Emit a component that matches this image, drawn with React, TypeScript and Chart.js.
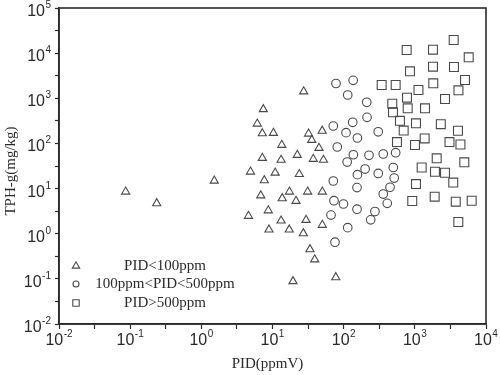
import React, { useEffect, useRef } from 'react';
import { Chart, registerables } from 'chart.js';

Chart.register(...registerables);

// PID (ppmV) / TPH-g (mg/kg) readings per group
const triX = [0.0865, 0.236, 1.52, 4.6, 4.91, 6.11, 7.43, 7.19, 10.3, 13.5, 32.1, 35.6, 49.9, 45.0, 7.19, 13.2, 22.3, 37.4, 52.0, 10.9, 23.8, 7.67, 27.4, 6.84, 17.3, 13.7, 21.4, 31.2, 50.1, 8.73, 13.2, 29.6, 8.93, 17.2, 27.1, 50.1, 33.6, 39.2, 19.4, 77.5];
const triY = [8.51, 4.71, 14.9, 2.47, 23.6, 273, 570, 167, 170, 92.3, 164, 119, 190, 79.2, 47.5, 43.0, 55.4, 45.2, 43.0, 22.4, 20.8, 15.2, 1413, 7.02, 8.51, 6.08, 5.3, 8.51, 8.51, 3.27, 1.94, 2.01, 1.23, 1.23, 1.02, 1.56, 0.451, 0.268, 0.0882, 0.108];

const circX = [78.0, 136, 114, 211, 213, 134, 71.5, 108, 156, 306, 81.3, 137, 227, 360, 538, 112, 200, 156, 306, 498, 513, 71.5, 154, 448, 360, 410, 73.1, 99.3, 154, 66.4, 275, 240, 114, 75.5];
const circY = [2125, 2500, 1183, 815, 379, 294, 243, 173, 132, 181, 83.3, 56.2, 54.6, 58.3, 62.3, 38.7, 27.1, 20.3, 21.6, 29.3, 17.1, 14.7, 10.5, 10.7, 7.57, 4.71, 5.38, 4.55, 3.49, 2.59, 3.1, 2.03, 1.36, 0.648];

const sqX = [3516, 768, 1799, 5715, 855, 1799, 3548, 5070, 342, 538, 1125, 1816, 4103, 776, 2655, 482, 493, 794, 1390, 618, 1038, 2317, 697, 4037, 561, 1005, 1374, 3069, 4375, 2028, 4955, 1247, 1919, 2655, 3467, 1038, 920, 1901, 3758, 6295, 4083];
const sqY = [19540, 11740, 11920, 8090, 3960, 5010, 4930, 2541, 1968, 1968, 1525, 2148, 1503, 1030, 964, 759, 489, 600, 600, 317, 279, 267, 193, 191, 107, 92.3, 129, 107, 94.6, 46.8, 38.2, 29.3, 23.6, 22.4, 13.6, 12.6, 5.3, 6.61, 5.12, 5.38, 1.82];

const seriesLabels = ['PID<100ppm', '100ppm<PID<500ppm', 'PID>500ppm'];
const xTitle = 'PID(ppmV)';
const yTitle = 'TPH-g(mg/kg)';

// tick marks (decades + half-decades) and labelled decades (exponents)
const xTickValues = [0.01, 0.0316, 0.1, 0.316, 1, 3.16, 10, 31.6, 100, 316, 1000, 3162, 10000];
const yTickValues = [0.01, 0.0316, 0.1, 0.316, 1, 3.16, 10, 31.6, 100, 316, 1000, 3162, 10000, 31623, 100000];
const xExponents = [-2, -1, 0, 1, 2, 3, 4];
const yExponents = [-2, -1, 0, 1, 2, 3, 4, 5];

const SANS = '"Liberation Sans", Arial, sans-serif';
const SERIF = '"Liberation Serif", "Times New Roman", serif';
const INK = '#2a2a2a';
const MARK = '#4a4a4a';

const BASE_FONT = `16px ${SANS}`;
const SUP_FONT = `10px ${SANS}`;
const TITLE_FONT = `15px ${SERIF}`;

function drawPower(ctx: CanvasRenderingContext2D, exp: number, x: number, baseY: number, align: 'center' | 'right') {
  const sup = String(exp);
  ctx.font = BASE_FONT;
  const wBase = ctx.measureText('10').width;
  ctx.font = SUP_FONT;
  const wSup = ctx.measureText(sup).width;
  const total = wBase + wSup + 0.5;
  const left = align === 'center' ? x - total / 2 : x - total;
  ctx.textAlign = 'left';
  ctx.textBaseline = 'alphabetic';
  ctx.font = BASE_FONT;
  ctx.fillText('10', left, baseY);
  ctx.font = SUP_FONT;
  ctx.fillText(sup, left + wBase + 0.5, baseY - 8);
}

const axisLabelPlugin = {
  id: 'powerLabels',
  afterDraw(chart: any) {
    const { ctx, chartArea: a } = chart;
    const xs = chart.scales.x;
    const ys = chart.scales.y;
    ctx.save();
    ctx.fillStyle = INK;
    xExponents.forEach((e) => {
      const px = xs.getPixelForValue(Math.pow(10, e));
      drawPower(ctx, e, px, a.bottom + 21, 'center');
    });
    yExponents.forEach((e) => {
      const py = ys.getPixelForValue(Math.pow(10, e));
      drawPower(ctx, e, a.left - 8, py + 8, 'right');
    });
    // axis titles
    ctx.font = TITLE_FONT;
    ctx.textAlign = 'center';
    ctx.textBaseline = 'middle';
    ctx.fillText(xTitle, (a.left + a.right) / 2 - 5, a.bottom + 40);
    ctx.translate(11, (a.top + a.bottom) / 2 + 5);
    ctx.rotate(-Math.PI / 2);
    ctx.fillText(yTitle, 0, 0);
    ctx.restore();
  },
};

const framePlugin = {
  id: 'frame',
  afterDraw(chart: any) {
    const { ctx, chartArea: a } = chart;
    ctx.save();
    ctx.strokeStyle = INK;
    ctx.lineWidth = 1.6;
    ctx.strokeRect(a.left, a.top, a.right - a.left, a.bottom - a.top);
    ctx.restore();
  },
};

const legendPlugin = {
  id: 'innerLegend',
  afterDatasetsDraw(chart: any) {
    const { ctx, chartArea: a } = chart;
    const rows = [a.bottom - 58, a.bottom - 40, a.bottom - 21];
    const mx = a.left + 17;
    const tx = a.left + 106;
    ctx.save();
    ctx.strokeStyle = MARK;
    ctx.lineWidth = 1.1;
    chart.data.datasets.forEach((ds: any, i: number) => {
      const y = rows[i];
      ctx.beginPath();
      if (ds.pointStyle === 'triangle') {
        const r = 4.2;
        ctx.moveTo(mx, y - r);
        ctx.lineTo(mx + r * 0.866, y + r * 0.5);
        ctx.lineTo(mx - r * 0.866, y + r * 0.5);
        ctx.closePath();
      } else if (ds.pointStyle === 'circle') {
        ctx.arc(mx, y, 3, 0, Math.PI * 2);
      } else {
        ctx.rect(mx - 3.2, y - 3.2, 6.4, 6.4);
      }
      ctx.stroke();
      ctx.fillStyle = INK;
      ctx.font = TITLE_FONT;
      ctx.textAlign = 'center';
      ctx.textBaseline = 'middle';
      ctx.fillText(ds.label, tx, y);
    });
    ctx.restore();
  },
};

function toPoints(xs: number[], ys: number[]) {
  return xs.map((x, i) => ({ x, y: ys[i] }));
}

export default function App() {
  const ref = useRef<HTMLCanvasElement>(null);

  useEffect(() => {
    if (!ref.current) return;
    const common = {
      showLine: false,
      borderColor: MARK,
      backgroundColor: 'rgba(0,0,0,0)',
      pointBorderWidth: 1.1,
    };
    const chart = new Chart(ref.current, {
      type: 'scatter',
      data: {
        datasets: [
          { ...common, label: seriesLabels[0], data: toPoints(triX, triY), pointStyle: 'triangle', pointRadius: 4.7 },
          { ...common, label: seriesLabels[1], data: toPoints(circX, circY), pointStyle: 'circle', pointRadius: 4.3 },
          { ...common, label: seriesLabels[2], data: toPoints(sqX, sqY), pointStyle: 'rect', pointRadius: 6.3 },
        ],
      },
      options: {
        animation: false,
        responsive: false,
        events: [],
        layout: { padding: { top: 8, right: 14, left: 0, bottom: 0 } },
        plugins: { legend: { display: false }, tooltip: { enabled: false } },
        scales: {
          x: {
            type: 'logarithmic',
            min: 0.01,
            max: 10000,
            afterBuildTicks: (s: any) => { s.ticks = xTickValues.map((v) => ({ value: v })); },
            afterFit: (s: any) => { s.height = 51; },
            ticks: { display: false, autoSkip: false },
            grid: { drawOnChartArea: false, drawTicks: true, tickLength: 5, tickColor: INK, tickWidth: 1.2 },
            border: { display: true, color: INK, width: 1.6 },
            title: { display: false, text: xTitle },
          },
          y: {
            type: 'logarithmic',
            min: 0.01,
            max: 100000,
            afterBuildTicks: (s: any) => { s.ticks = yTickValues.map((v) => ({ value: v })); },
            afterFit: (s: any) => { s.width = 59; },
            ticks: { display: false, autoSkip: false },
            grid: { drawOnChartArea: false, drawTicks: true, tickLength: 4, tickColor: INK, tickWidth: 1.2 },
            border: { display: true, color: INK, width: 1.6 },
            title: { display: false, text: yTitle },
          },
        },
      } as any,
      plugins: [framePlugin, legendPlugin, axisLabelPlugin],
    });
    return () => chart.destroy();
  }, []);

  return (
    <div style={{ position: 'fixed', left: 0, top: 0, width: 500, height: 375, background: '#fff' }}>
      <canvas ref={ref} width={500} height={375} />
    </div>
  );
}
